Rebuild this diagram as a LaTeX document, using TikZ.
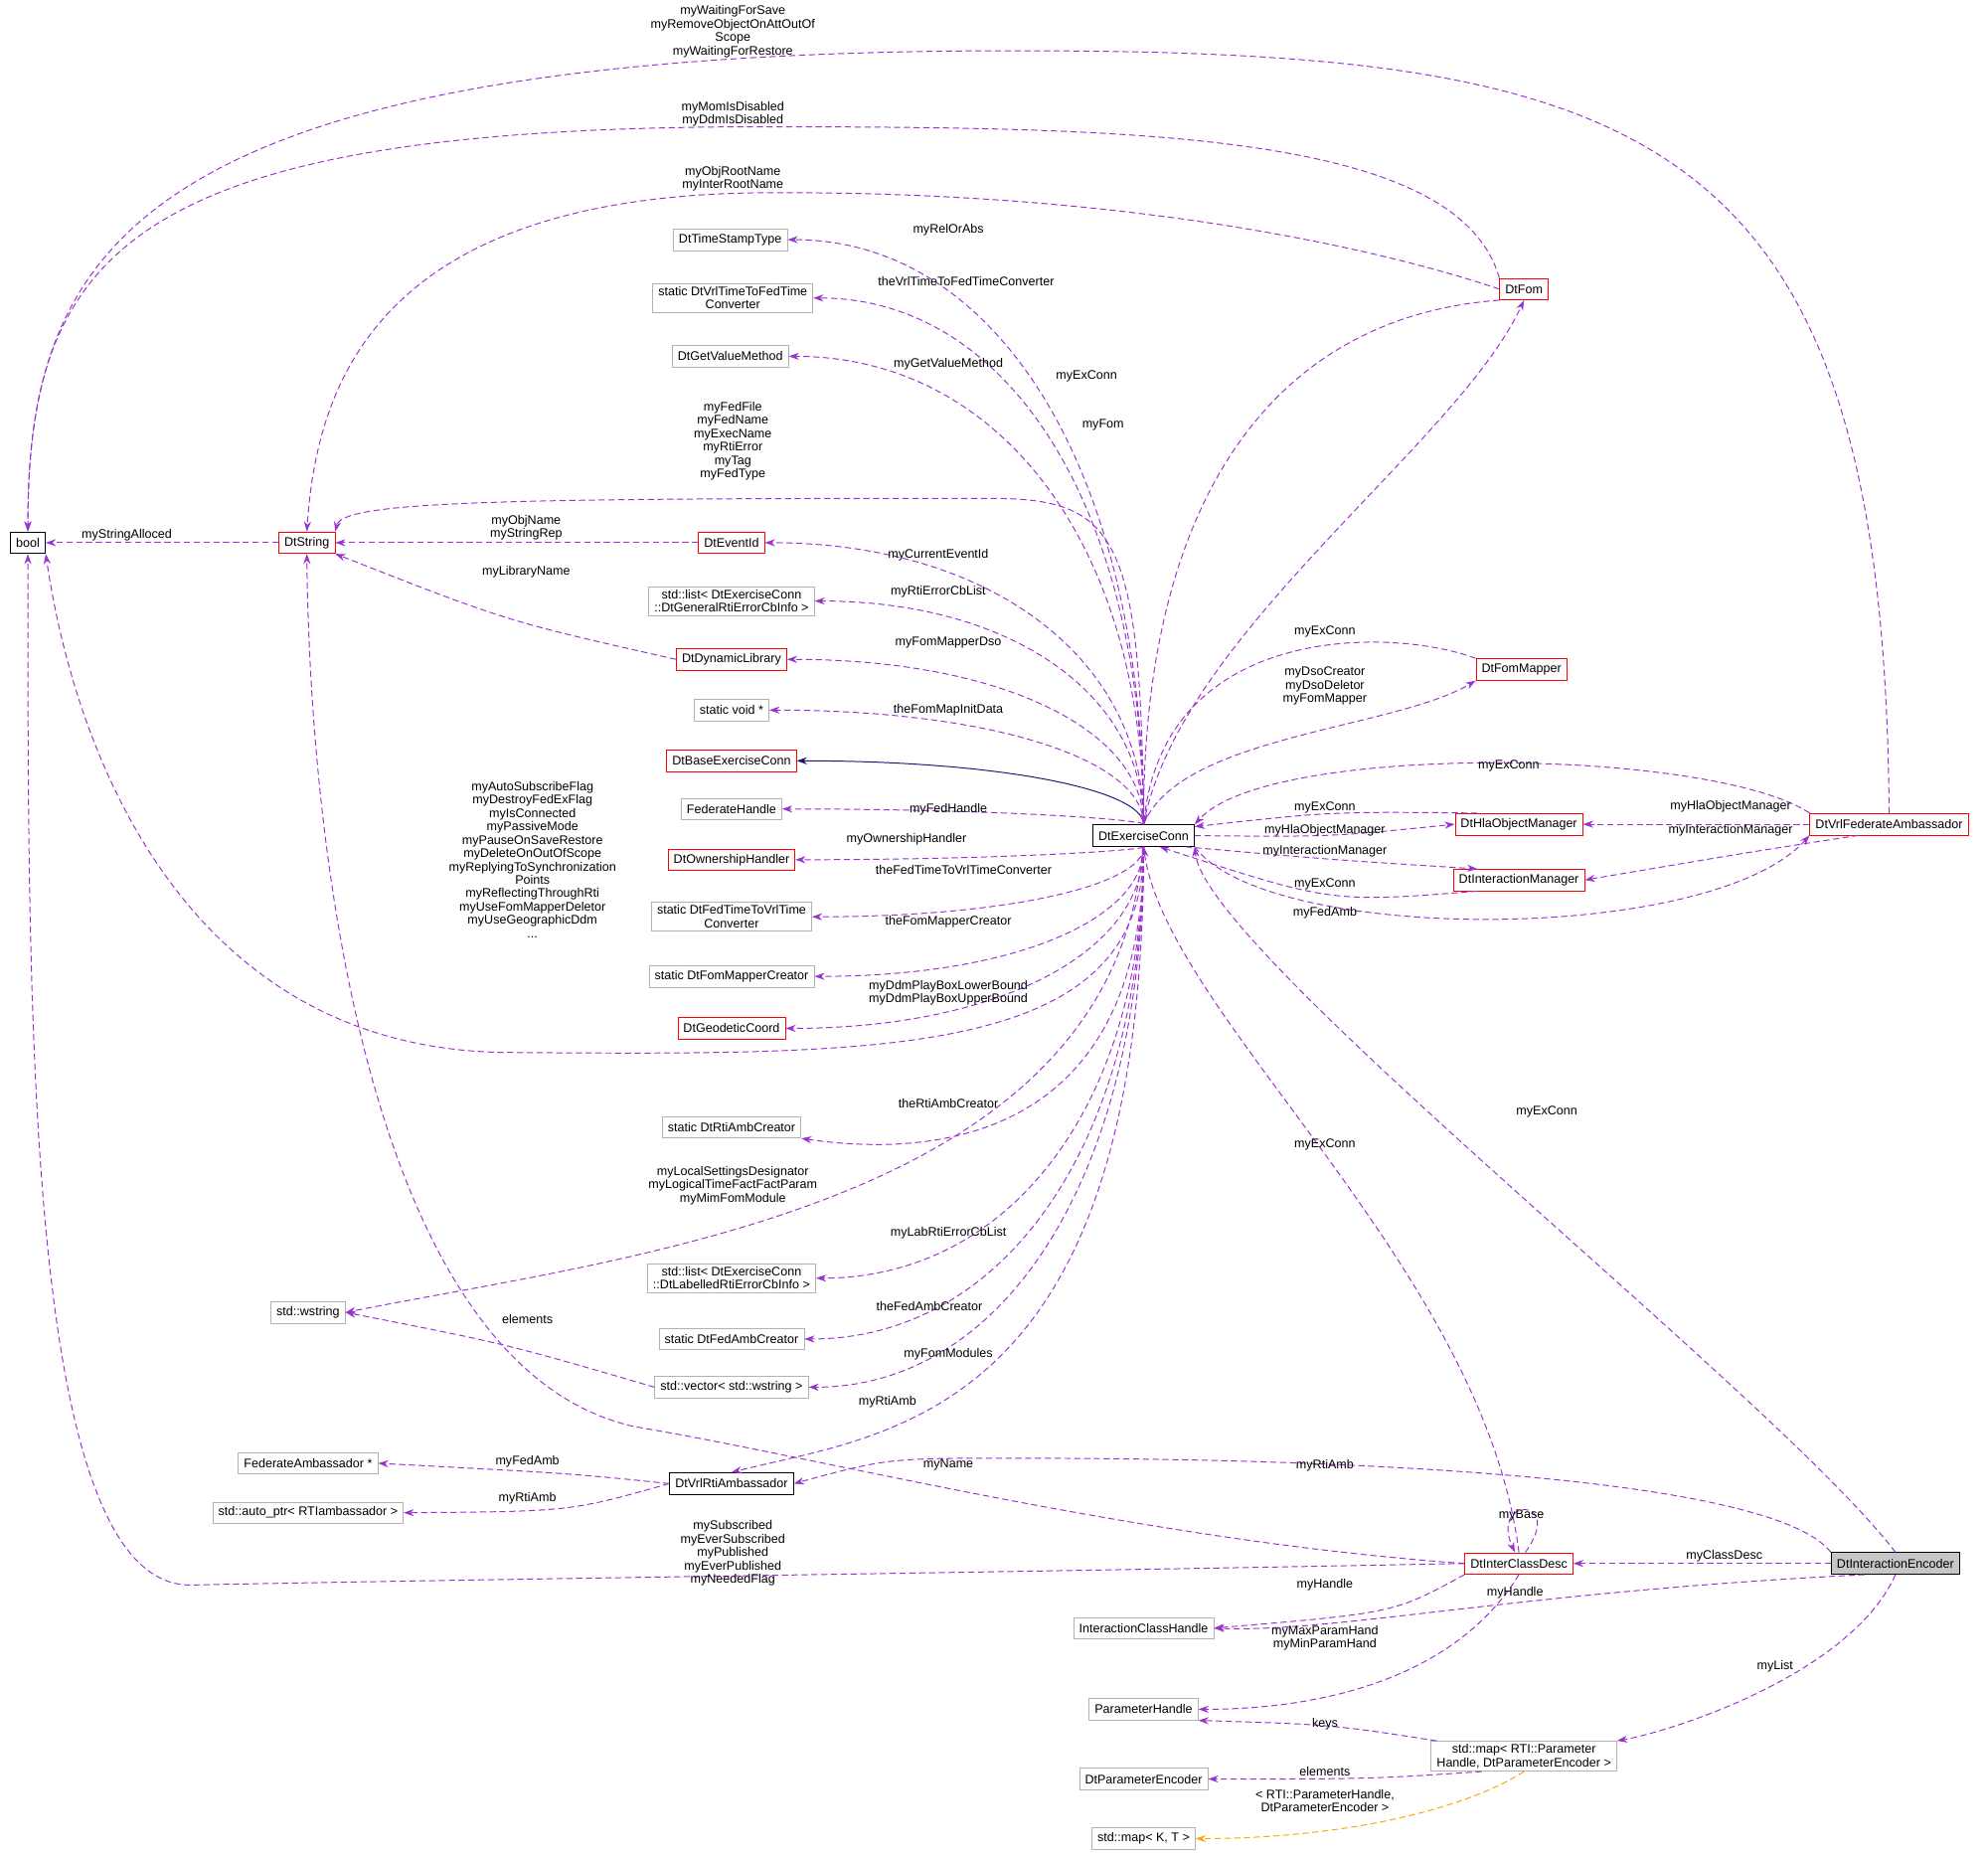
\documentclass[tikz,border=0pt]{standalone}
\usepackage{fontspec}
\setmainfont{Liberation Sans}
\usetikzlibrary{arrows.meta,calc}
\definecolor{pur}{HTML}{9A32CD}
\definecolor{nav}{HTML}{191970}
\definecolor{org}{HTML}{FFA500}
\newcommand{\lf}{\fontsize{14}{15}\selectfont}
\begin{document}
\begin{tikzpicture}[x=0.5mm,y=-0.5mm,
box/.style={draw=gray!60,fill=white,font=\lf,inner xsep=2.2mm,inner ysep=1.2mm,minimum height=8.5mm,align=center,line width=0.8pt},
rbox/.style={box,draw=red},
bbox/.style={box,draw=black,line width=1pt},
mem/.style={draw=pur,line width=1.1pt,dash pattern=on 7pt off 4pt,-{Stealth[length=4mm,width=2.8mm]}},
lbl/.style={font=\lf,align=center,inner sep=0pt}]
\useasboundingbox (0,0) rectangle (1568,1464);
% nodes
\node[bbox] (bool) at (22,428) {bool};
\node[rbox] (ds) at (242,428) {DtString};
\node[box] (tst) at (576,189) {DtTimeStampType};
\node[box] (v2f) at (578,235) {static DtVrlTimeToFedTime\\Converter};
\node[box] (gvm) at (576,281) {DtGetValueMethod};
\node[rbox] (ev) at (577,428) {DtEventId};
\node[box] (lg) at (577,474) {std::list< DtExerciseConn\\::DtGeneralRtiErrorCbInfo >};
\node[rbox] (dl) at (577,520) {DtDynamicLibrary};
\node[box] (sv) at (577,560) {static void *};
\node[rbox] (base) at (577,600) {DtBaseExerciseConn};
\node[box] (fh) at (577,638) {FederateHandle};
\node[rbox] (oh) at (577,678) {DtOwnershipHandler};
\node[box] (f2v) at (577,723) {static DtFedTimeToVrlTime\\Converter};
\node[box] (fmc) at (577,770) {static DtFomMapperCreator};
\node[rbox] (gc) at (577,811) {DtGeodeticCoord};
\node[box] (rac) at (577,889) {static DtRtiAmbCreator};
\node[box] (ll) at (577,1008) {std::list< DtExerciseConn\\::DtLabelledRtiErrorCbInfo >};
\node[box] (fac) at (577,1056) {static DtFedAmbCreator};
\node[box] (vec) at (577,1094) {std::vector< std::wstring >};
\node[bbox] (rti) at (577,1170) {DtVrlRtiAmbassador};
\node[box] (fa) at (243,1154) {FederateAmbassador *};
\node[box] (ap) at (243,1193) {std::auto\_ptr< RTIambassador >};
\node[box] (ws) at (243,1035) {std::wstring};
\node[bbox] (ec) at (902,659) {DtExerciseConn};
\node[rbox] (fom) at (1202,228) {DtFom};
\node[rbox] (fm) at (1200,528) {DtFomMapper};
\node[rbox] (hla) at (1198,650) {DtHlaObjectManager};
\node[rbox] (im) at (1198,694) {DtInteractionManager};
\node[rbox] (vfa) at (1490,650) {DtVrlFederateAmbassador};
\node[rbox] (icd) at (1198,1233) {DtInterClassDesc};
\node[bbox,fill=gray!45] (enc) at (1495,1233) {DtInteractionEncoder};
\node[box] (ich) at (902,1284) {InteractionClassHandle};
\node[box] (ph) at (902,1348) {ParameterHandle};
\node[box] (pe) at (902,1403) {DtParameterEncoder};
\node[box] (mkt) at (902,1450) {std::map< K, T >};
\node[box] (map) at (1202,1385) {std::map< RTI::Parameter\\Handle, DtParameterEncoder >};
% edges from ec to left column
\foreach \t in {tst,v2f,gvm,ev,lg,dl,sv,fh,oh,f2v,fmc,gc,ll,fac,vec}
  \draw[mem] (ec) .. controls ($(ec)!0.6!(ec |- \t)$) and ($(\t.east)!0.6!(ec |- \t)$) .. (\t.east);
\draw[draw=nav,line width=1.1pt,-{Stealth[length=4mm,width=2.8mm]}] (ec) .. controls ($(ec)!0.6!(ec |- base)$) and ($(base.east)!0.6!(ec |- base)$) .. (base.east);
\draw[mem] (ec.north) .. controls (900,420) and (880,393) .. (780,393) .. controls (400,393) and (270,395) .. (ds.north east);
\draw[mem] (ec) .. controls (902,835) and (700,832) .. (400,830) .. controls (150,828) and (60,600) .. (bool.south east);
\draw[mem] (ec) .. controls (902,890) and (750,915) .. (rac.south east);
\draw[mem] (ec) .. controls (880,950) and (500,990) .. (ws.east);
\draw[mem] (ec) .. controls (902,1120) and (700,1130) .. (rti.north);
\draw[mem] (vec.west) .. controls (400,1060) .. (ws.east);
\draw[mem] (ds) -- (bool);
\draw[mem] (ev) -- (ds);
\draw[mem] (dl.west) .. controls (400,490) .. (ds.south east);
\draw[mem] (rti.west) .. controls (450,1162) .. (fa.east);
\draw[mem] (rti.west) .. controls (450,1192) .. (ap.east);
% right part
\draw[mem] (fom.west) .. controls (1100,200) and (900,150) .. (600,152) .. controls (300,155) and (250,300) .. (ds.north);
\draw[mem] (fom.north west) .. controls (1150,105) and (900,100) .. (600,100) .. controls (100,100) and (22,200) .. (bool.north);
\draw[mem] (vfa.north) .. controls (1486,100) and (1300,40) .. (800,40) .. controls (100,40) and (22,200) .. (bool.north);
\draw[mem] (fom.south west) .. controls (1000,250) and (902,400) .. (ec.north);
\draw[mem] (ec.north) .. controls (930,500) and (1150,350) .. (fom.south);
\draw[mem] (fm.north west) .. controls (1100,495) and (920,490) .. (ec.north);
\draw[mem] (ec.north) .. controls (930,580) and (1100,575) .. (fm.south west);
\draw[mem] (vfa.north west) .. controls (1350,590) and (1000,585) .. (ec.north east);
\draw[mem] (ec.south east) .. controls (1000,745) and (1350,745) .. (vfa.south west);
\draw[mem] (hla.165) .. controls (1050,640) .. (ec.10);
\draw[mem] (ec.east) .. controls (1050,660) .. (hla.west);
\draw[mem] (ec.-15) .. controls (1050,678) .. (im.165);
\draw[mem] (im.195) .. controls (1050,712) .. (ec.-35);
\draw[mem] (vfa.west) -- (hla.east);
\draw[mem] (vfa.200) .. controls (1380,672) .. (im.east);
\draw[mem] (icd.north) .. controls (1170,1000) and (920,800) .. (ec.south);
\draw[mem] (enc.north) .. controls (1400,1100) and (950,750) .. (ec.south east);
\draw[mem] (enc.north west) .. controls (1400,1168) and (1100,1150) .. (800,1150) .. controls (700,1150) .. (rti.east);
\draw[mem] (icd.west) .. controls (900,1215) and (650,1150) .. (500,1125) .. controls (300,1080) and (245,700) .. (ds.south);
\draw[mem] (icd.west) .. controls (800,1240) and (400,1245) .. (150,1250) .. controls (20,1250) and (22,800) .. (bool.south);
\draw[mem] (icd.60) .. controls (1235,1180) and (1175,1180) .. (icd.110);
\draw[mem] (enc.west) -- (icd.east);
\draw[mem] (icd.south west) .. controls (1100,1272) .. (ich.east);
\draw[mem] (enc.200) .. controls (1200,1255) and (1050,1288) .. (ich.east);
\draw[mem] (icd.south) .. controls (1150,1320) and (1050,1348) .. (ph.east);
\draw[mem] (enc.south) .. controls (1460,1320) and (1320,1365) .. (map.north east);
\draw[mem] (map.170) .. controls (1050,1360) .. (ph.south east);
\draw[mem] (map.200) .. controls (1080,1403) .. (pe.east);
\draw[mem,draw=org] (map.south) .. controls (1150,1430) and (1050,1450) .. (mkt.east);
% labels
\node[lbl] at (748,181) {myRelOrAbs};
\node[lbl] at (762,222) {theVrlTimeToFedTimeConverter};
\node[lbl] at (748,287) {myGetValueMethod};
\node[lbl] at (578,348) {myFedFile\\myFedName\\myExecName\\myRtiError\\myTag\\myFedType};
\node[lbl] at (740,438) {myCurrentEventId};
\node[lbl] at (740,467) {myRtiErrorCbList};
\node[lbl] at (748,507) {myFomMapperDso};
\node[lbl] at (748,560) {theFomMapInitData};
\node[lbl] at (748,638) {myFedHandle};
\node[lbl] at (715,662) {myOwnershipHandler};
\node[lbl] at (760,686) {theFedTimeToVrlTimeConverter};
\node[lbl] at (748,727) {theFomMapperCreator};
\node[lbl] at (748,783) {myDdmPlayBoxLowerBound\\myDdmPlayBoxUpperBound};
\node[lbl] at (420,678) {myAutoSubscribeFlag\\myDestroyFedExFlag\\myIsConnected\\myPassiveMode\\myPauseOnSaveRestore\\myDeleteOnOutOfScope\\myReplyingToSynchronization\\Points\\myReflectingThroughRti\\myUseFomMapperDeletor\\myUseGeographicDdm\\...};
\node[lbl] at (748,870) {theRtiAmbCreator};
\node[lbl] at (578,935) {myLocalSettingsDesignator\\myLogicalTimeFactFactParam\\myMimFomModule};
\node[lbl] at (748,972) {myLabRtiErrorCbList};
\node[lbl] at (733,1030) {theFedAmbCreator};
\node[lbl] at (748,1068) {myFomModules};
\node[lbl] at (700,1106) {myRtiAmb};
\node[lbl] at (416,1040) {elements};
\node[lbl] at (100,422) {myStringAlloced};
\node[lbl] at (415,416) {myObjName\\myStringRep};
\node[lbl] at (415,451) {myLibraryName};
\node[lbl] at (578,141) {myObjRootName\\myInterRootName};
\node[lbl] at (578,90) {myMomIsDisabled\\myDdmIsDisabled};
\node[lbl] at (578,25) {myWaitingForSave\\myRemoveObjectOnAttOutOf\\Scope\\myWaitingForRestore};
\node[lbl] at (857,297) {myExConn};
\node[lbl] at (870,335) {myFom};
\node[lbl] at (1045,498) {myExConn};
\node[lbl] at (1045,541) {myDsoCreator\\myDsoDeletor\\myFomMapper};
\node[lbl] at (1190,604) {myExConn};
\node[lbl] at (1045,637) {myExConn};
\node[lbl] at (1045,655) {myHlaObjectManager};
\node[lbl] at (1045,671) {myInteractionManager};
\node[lbl] at (1045,697) {myExConn};
\node[lbl] at (1045,720) {myFedAmb};
\node[lbl] at (1365,636) {myHlaObjectManager};
\node[lbl] at (1365,655) {myInteractionManager};
\node[lbl] at (1045,903) {myExConn};
\node[lbl] at (1220,877) {myExConn};
\node[lbl] at (1045,1156) {myRtiAmb};
\node[lbl] at (416,1153) {myFedAmb};
\node[lbl] at (416,1182) {myRtiAmb};
\node[lbl] at (748,1155) {myName};
\node[lbl] at (578,1225) {mySubscribed\\myEverSubscribed\\myPublished\\myEverPublished\\myNeededFlag};
\node[lbl] at (1200,1195) {myBase};
\node[lbl] at (1360,1227) {myClassDesc};
\node[lbl] at (1045,1250) {myHandle};
\node[lbl] at (1195,1256) {myHandle};
\node[lbl] at (1045,1292) {myMaxParamHand\\myMinParamHand};
\node[lbl] at (1400,1314) {myList};
\node[lbl] at (1045,1360) {keys};
\node[lbl] at (1045,1397) {elements};
\node[lbl] at (1045,1420) {< RTI::ParameterHandle,\\DtParameterEncoder >};
\end{tikzpicture}
\end{document}
